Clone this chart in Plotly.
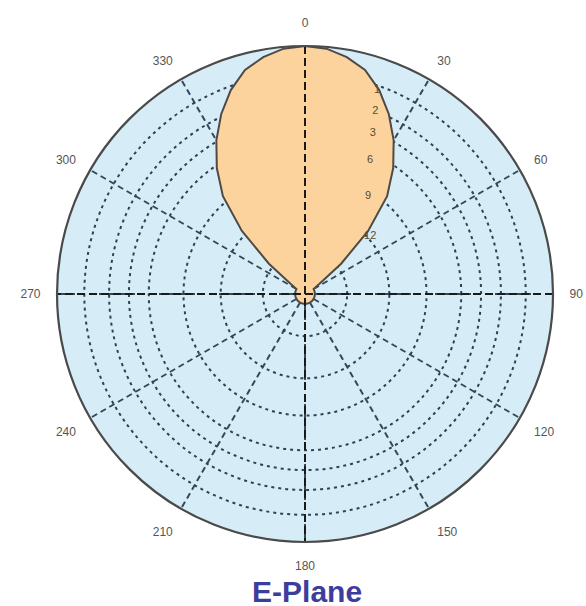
import plotly.graph_objects as go

# ---- data ----
angle_ticks = [0, 30, 60, 90, 120, 150, 180, 210, 240, 270, 300, 330]
angle_labels = ["0", "30", "60", "90", "120", "150", "180", "210", "240", "270", "300", "330"]

ring_r = [0.17, 0.34, 0.49, 0.63, 0.71, 0.79, 0.89]

lobe_theta = [0, 5, 10, 15, 20, 25, 30, 35, 40, 45, 50, 55, 60, 75, 90, 105, 120, 135, 150,
              165, 180, 195, 210, 225, 240, 255, 270, 285, 300, 305, 310, 315, 320, 325,
              330, 335, 340, 345, 350, 355, 360]
lobe_r = [1.0, 0.993, 0.97, 0.935, 0.875, 0.80, 0.715, 0.62, 0.515, 0.36, 0.19, 0.07, 0.04,
          0.04, 0.04, 0.04, 0.04, 0.04, 0.04, 0.04, 0.04, 0.04, 0.04, 0.04, 0.04, 0.04, 0.04,
          0.04, 0.04, 0.07, 0.19, 0.36, 0.515, 0.62, 0.715, 0.80, 0.875, 0.935, 0.97, 0.993, 1.0]

scale_labels = ["1", "2", "3", "6", "9", "12"]
scale_label_r = [0.87, 0.79, 0.705, 0.60, 0.47, 0.35]
scale_label_theta = [19.5, 21, 22.8, 25.9, 32.7, 48.7]

title_text = "E-Plane"

fig = go.Figure()

lobe_kwargs = dict(
    r=lobe_r, theta=lobe_theta, mode="lines", fill="toself",
    fillcolor="#fcd39c", line=dict(color="#4f4a45", width=2),
    hoverinfo="skip", showlegend=False,
)
try:
    lobe = go.Scatterpolar(
        fillpattern=dict(shape="/", fgcolor="#f8e4a6", bgcolor="#fcd09a",
                         size=9, solidity=0.35),
        **lobe_kwargs)
except Exception:
    lobe = go.Scatterpolar(**lobe_kwargs)
fig.add_trace(lobe)

# main cross axes (0-180, 90-270)
for pair in ([0, 180], [90, 270]):
    fig.add_trace(go.Scatterpolar(
        r=[1.0, 1.0], theta=pair, mode="lines",
        line=dict(color="#1a1a1a", width=2, dash="8px,4px"),
        hoverinfo="skip", showlegend=False))

# ring scale labels
fig.add_trace(go.Scatterpolar(
    r=scale_label_r, theta=scale_label_theta, mode="text", text=scale_labels,
    textfont=dict(family="Liberation Sans, Arial", size=11, color="#5a4a38"),
    hoverinfo="skip", showlegend=False))

fig.update_layout(
    width=586, height=606,
    margin=dict(l=0, r=0, t=0, b=0),
    paper_bgcolor="white",
    showlegend=False,
    polar=dict(
        domain=dict(x=[0.0973, 0.9437], y=[0.1056, 0.9241]),
        bgcolor="#d6edf8",
        radialaxis=dict(
            range=[0, 1], tickvals=ring_r, showticklabels=False, ticks="",
            showline=False, gridcolor="#2e4252", gridwidth=1.8, griddash="3px,4px",
        ),
        angularaxis=dict(
            rotation=90, direction="clockwise",
            tickvals=angle_ticks, ticktext=angle_labels,
            ticks="outside", ticklen=13, tickcolor="rgba(0,0,0,0)",
            tickfont=dict(family="Liberation Sans, Arial", size=12, color="#555555"),
            showline=True, linecolor="#4a4a4a", linewidth=2.2,
            gridcolor="#34495a", gridwidth=1.6, griddash="6px,4px",
        ),
    ),
    title=dict(
        text="<b>" + title_text + "</b>", x=0.524, xanchor="center",
        y=1 - 591 / 606, yref="container", yanchor="middle",
        font=dict(family="Liberation Sans, Arial", size=30, color="#3c3d9c"),
    ),
)

fig.write_html(
    "out.html",
    config={"displayModeBar": False},
    post_script="document.body.style.margin='0';document.body.style.overflow='hidden';",
)
